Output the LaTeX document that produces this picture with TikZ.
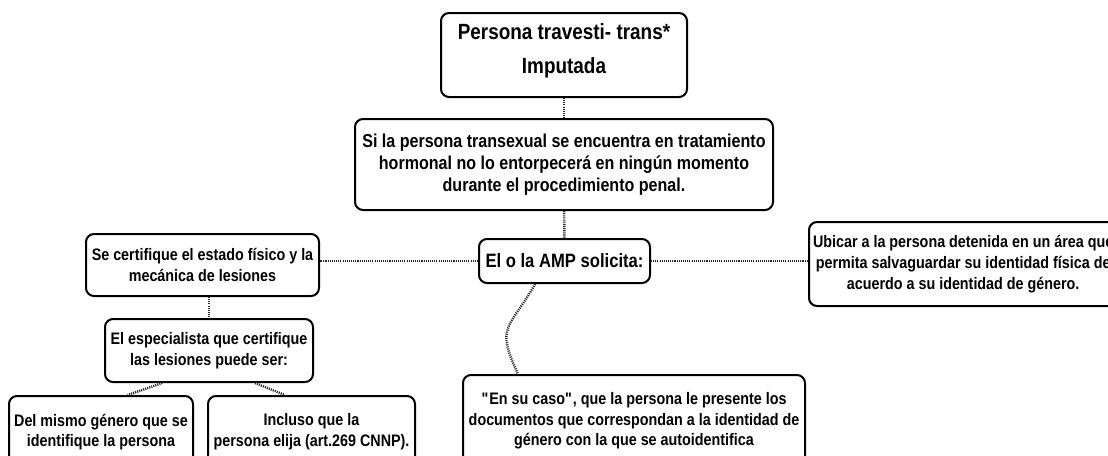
\documentclass[tikz,border=0pt]{standalone}
\usepackage{fontspec}
\setmainfont{Liberation Sans}[FakeStretch=0.86]
\usepackage{tikz}
\usetikzlibrary{positioning}

\begin{document}
\begin{tikzpicture}[x=0.75pt, y=-0.75pt,
	caja/.style={draw, line width=1.5pt, rounded corners=6pt, fill=white, align=center, inner sep=3pt, font=\bfseries\fontsize{12.5}{15.5}\selectfont},
	punteado/.style={line width=1.8pt, dash pattern=on 0.8pt off 0.8pt, black!85}]
	\useasboundingbox (0,0) rectangle (1108,455);
	\clip (0,0) rectangle (1108,455);

	\node[caja, minimum width=184.5pt, minimum height=63pt, font=\bfseries\fontsize{16.5}{25.5}\selectfont] (imputada) at (564,55) {Persona travesti- trans*\\Imputada\rule[-9pt]{0pt}{0pt}};
	\node[caja, minimum width=313.5pt, minimum height=68.25pt, font=\bfseries\fontsize{14}{16.5}\selectfont] (tratamiento) at (564,164.5) {Si la persona transexual se encuentra en tratamiento\\hormonal no lo entorpecerá en ningún momento\\durante el procedimiento penal.};
	\node[caja, minimum width=128.25pt, minimum height=33pt, font=\bfseries\fontsize{14.5}{17}\selectfont] (amp) at (564.5,261) {El o la AMP solicita:};
	\node[caja, minimum width=174.75pt, minimum height=46.5pt] (certifique) at (202.5,265) {Se certifique el estado físico y la\\mecánica de lesiones};
	\node[caja, anchor=west, minimum height=63pt] (ubicar) at (808,264) {Ubicar a la persona detenida en un área que\\permita salvaguardar su identidad física de\\acuerdo a su identidad de género.};
	\node[caja, minimum width=156pt, minimum height=47.25pt] (especialista) at (209,350.5) {El especialista que certifique\\las lesiones puede ser:};
	\node[caja, minimum width=138pt, minimum height=54pt] (genero) at (101,432) {Del mismo género que se\\identifique la persona};
	\node[caja, minimum width=155.25pt, minimum height=54pt] (elija) at (311.5,432) {Incluso que la\\persona elija (art.269 CNNP).};
	\node[caja, minimum width=256.5pt, minimum height=69pt] (documentos) at (634,421) {\textquotedbl En su caso\textquotedbl, que la persona le presente los\\documentos que correspondan a la identidad de\\género con la que se autoidentifica};

	% enlaces punteados
	\draw[punteado] (imputada) -- (tratamiento);
	\draw[punteado] (tratamiento) -- (amp);
	\draw[punteado] (amp.west) -- (amp.west -| certifique.east);
	\draw[punteado] (amp.east) -- (amp.east -| ubicar.west);
	\draw[punteado] (certifique.south -| especialista.north) -- (especialista.north);
	\draw[punteado] ([xshift=-35pt]especialista.south) -- ([xshift=20pt]genero.north);
	\draw[punteado] ([xshift=34.5pt]especialista.south) -- ([xshift=-20pt]elija.north);
	\draw[punteado] ([xshift=-22pt]amp.south) to[out=240, in=115, looseness=1.5] ([xshift=-87pt]documentos.north);
\end{tikzpicture}
\end{document}
